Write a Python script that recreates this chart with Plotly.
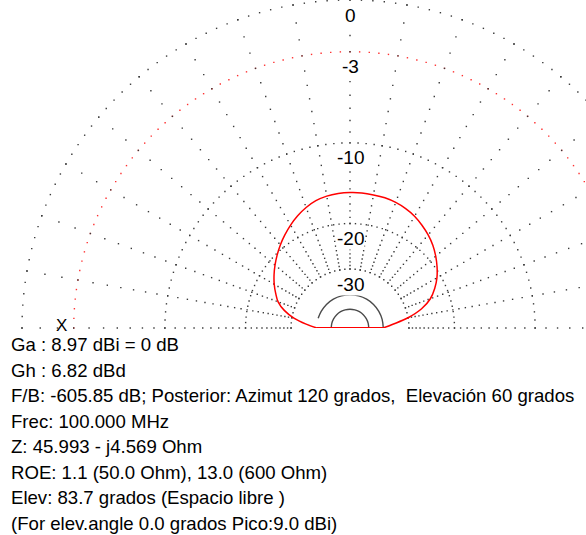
import numpy as np
import plotly.graph_objects as go

# ---- pattern data -------------------------------------------------------
# Elevation angle (degrees) and relative field strength (dB)
elev_deg = [0, 5, 10, 15, 20, 25, 30, 35, 40, 45, 50, 55, 60, 65, 70, 75, 80, 85, 90,
            95, 100, 105, 110, 115, 120, 125, 130, 135, 140, 145, 150, 155, 160, 165,
            170, 175, 180]
pattern_db = [-40.1, -35.5, -30.0, -26.0, -23.5, -21.95, -20.7, -19.7, -18.8, -18.0,
              -17.35, -16.8, -16.3, -15.95, -15.7, -15.55, -15.5, -15.45, -15.47,
              -15.53, -15.66, -15.94, -16.42, -17.03, -17.75, -18.54, -19.36, -20.24,
              -21.14, -22.09, -23.1, -24.24, -25.45, -27.5, -30.6, -35.1, -40.1]

# Secondary components (dB)
comp_a_deg = [0, 15, 30, 45, 60, 75, 90, 105, 120, 135, 150, 163]
comp_a_db = [-40, -40, -40, -40, -40, -40, -40, -40, -40, -40, -40, -40]
comp_b_deg = [0, 15, 30, 45, 60, 75, 90, 105, 120, 135, 150, 165, 180]
comp_b_db = [-50, -50, -50, -50, -50, -50, -50, -50, -50, -50, -50, -50, -50]

# Grid
ring_db = [0, -3, -10, -20, -30]
ring_labels = ["0", "-3", "-10", "-20", "-30"]
ring_step_deg = [2, 2, 2.5, 3, 5]
spoke_deg = list(range(0, 181, 10))
spoke_db = list(range(-30, 1))

info_lines = [
    "Ga : 8.97 dBi = 0 dB",
    "Gh : 6.82 dBd",
    "F/B: -605.85 dB; Posterior: Azimut 120 grados,\u00a0 Elevación 60 grados",
    "Frec: 100.000 MHz",
    "Z: 45.993 - j4.569 Ohm",
    "ROE: 1.1 (50.0 Ohm), 13.0 (600 Ohm)",
    "Elev: 83.7 grados (Espacio libre )",
    "(For elev.angle 0.0 grados Pico:9.0 dBi)",
]

# ---- log-periodic radial scale -----------------------------------------
DB_SCALE = 0.0572


def rad(db):
    return np.exp(DB_SCALE * np.asarray(db, dtype=float))


W, H = 700, 535
R_PX = 328.0           # radius of the 0 dB ring in pixels
CX, CY = 350.0, 328.0  # pole position in pixels
FONT = "Liberation Sans, Arial, sans-serif"
DOT = "#3a3a3a"

fig = go.Figure()

# rings (dotted)
for db, step in zip(ring_db, ring_step_deg):
    th = np.arange(0, 180 + 0.01, step)
    fig.add_trace(go.Scatterpolar(
        theta=th, r=np.full(th.shape, rad(db)), mode="markers",
        marker=dict(size=1.4, symbol="square",
                    color="#ff3030" if db == -3 else DOT),
        cliponaxis=False, hoverinfo="skip", showlegend=False))

# spokes (one dot per dB)
sp_th, sp_r = [], []
for a in spoke_deg:
    for db in spoke_db:
        sp_th.append(a)
        sp_r.append(float(rad(db)))
fig.add_trace(go.Scatterpolar(
    theta=sp_th, r=sp_r, mode="markers",
    marker=dict(size=1.4, symbol="square", color=DOT),
    cliponaxis=False, hoverinfo="skip", showlegend=False))

# secondary components
fig.add_trace(go.Scatterpolar(
    theta=comp_a_deg, r=rad(comp_a_db), mode="lines",
    line=dict(color="#4a4a4a", width=1.4, shape="spline"),
    hoverinfo="skip", showlegend=False))
fig.add_trace(go.Scatterpolar(
    theta=comp_b_deg, r=rad(comp_b_db), mode="lines",
    line=dict(color="#4a4a4a", width=1.4, shape="spline"),
    hoverinfo="skip", showlegend=False))

# main pattern
fig.add_trace(go.Scatterpolar(
    theta=elev_deg, r=rad(pattern_db), mode="lines",
    line=dict(color="#ff0000", width=1.5, shape="spline", smoothing=1.0),
    hoverinfo="skip", showlegend=False))
# closing edge of the pattern along the horizon
fig.add_trace(go.Scatterpolar(
    theta=[elev_deg[-1], elev_deg[0]], r=rad([pattern_db[-1], pattern_db[0]]),
    mode="lines", line=dict(color="#ff0000", width=2),
    cliponaxis=False, hoverinfo="skip", showlegend=False))

annotations = []
# ring labels on the vertical, just inside each ring
for db, lab in zip(ring_db, ring_labels):
    y_px = CY - float(rad(db)) * R_PX + 15.0
    annotations.append(dict(
        x=CX / W, y=1 - y_px / H, xref="paper", yref="paper", text=lab,
        showarrow=False, xanchor="center", yanchor="middle",
        bgcolor="white", borderpad=0,
        font=dict(family=FONT, size=19, color="black")))

annotations.append(dict(
    x=62 / W, y=1 - 325.5 / H, xref="paper", yref="paper", text="X",
    showarrow=False, xanchor="center", yanchor="middle",
    font=dict(family=FONT, size=17, color="black")))
for i, line in enumerate(info_lines):
    annotations.append(dict(
        x=9 / W, y=1 - (344.5 + 25.5 * i) / H, xref="paper", yref="paper",
        text=line, showarrow=False, xanchor="left", yanchor="middle",
        font=dict(family=FONT, size=18.6, color="black")))

fig.update_layout(
    width=W, height=H, margin=dict(l=0, r=0, t=0, b=0),
    paper_bgcolor="white", plot_bgcolor="white",
    polar=dict(
        domain=dict(x=[(CX - R_PX) / W, (CX + R_PX) / W], y=[1 - CY / H, 1]),
        sector=[0, 180], bgcolor="white",
        radialaxis=dict(visible=False, range=[0, 1]),
        angularaxis=dict(visible=False, rotation=0, direction="counterclockwise"),
    ),
    annotations=annotations,
    showlegend=False,
)

fig.write_html(
    "out.html",
    post_script=("document.body.style.margin='0';"
                 "document.body.style.overflow='hidden';"
                 "document.documentElement.style.overflow='hidden';"),
)
